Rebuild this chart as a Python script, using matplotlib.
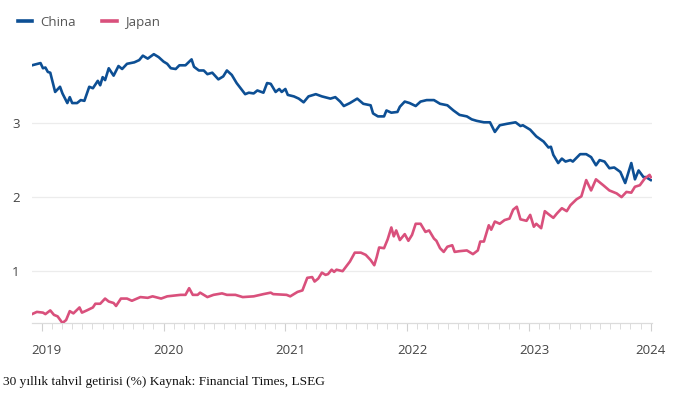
import matplotlib
matplotlib.use("Agg")
import matplotlib.pyplot as plt
from matplotlib.ticker import MultipleLocator, FixedLocator
from matplotlib.transforms import ScaledTranslation

# ---- data (decimal years, yield %) ----
china_t = [2018.92, 2018.99, 2019.01, 2019.03, 2019.05, 2019.07, 2019.11, 2019.15, 2019.17, 2019.21,
           2019.23, 2019.25, 2019.29, 2019.32, 2019.35, 2019.39, 2019.42, 2019.46, 2019.48, 2019.50,
           2019.52, 2019.55, 2019.59, 2019.63, 2019.66, 2019.70, 2019.76, 2019.80, 2019.83, 2019.87,
           2019.92, 2019.96, 2020.00, 2020.03, 2020.06, 2020.10, 2020.13, 2020.18, 2020.23, 2020.25,
           2020.29, 2020.33, 2020.36, 2020.40, 2020.45, 2020.49, 2020.52, 2020.56, 2020.60, 2020.67,
           2020.70, 2020.74, 2020.77, 2020.82, 2020.85, 2020.88, 2020.92, 2020.95, 2020.97, 2021.00,
           2021.02, 2021.07, 2021.11, 2021.15, 2021.19, 2021.25, 2021.30, 2021.37, 2021.41, 2021.45,
           2021.48, 2021.53, 2021.59, 2021.64, 2021.70, 2021.72, 2021.76, 2021.81, 2021.83, 2021.87,
           2021.92, 2021.94, 2021.98, 2022.02, 2022.07, 2022.11, 2022.16, 2022.22, 2022.27, 2022.33,
           2022.38, 2022.43, 2022.49, 2022.53, 2022.57, 2022.63, 2022.68, 2022.72, 2022.76, 2022.82,
           2022.89, 2022.93, 2022.95, 2023.01, 2023.06, 2023.12, 2023.16, 2023.18, 2023.20, 2023.24,
           2023.27, 2023.30, 2023.34, 2023.36, 2023.42, 2023.47, 2023.51, 2023.55, 2023.58, 2023.62,
           2023.66, 2023.70, 2023.75, 2023.79, 2023.84, 2023.87, 2023.90, 2023.94, 2023.96, 2024.00]
china_y = [3.78, 3.81, 3.74, 3.75, 3.69, 3.68, 3.42, 3.49, 3.40, 3.27,
           3.35, 3.27, 3.27, 3.31, 3.30, 3.49, 3.47, 3.57, 3.51, 3.62,
           3.58, 3.74, 3.64, 3.77, 3.73, 3.80, 3.82, 3.85, 3.91, 3.87,
           3.93, 3.89, 3.83, 3.80, 3.74, 3.73, 3.78, 3.78, 3.86, 3.76,
           3.71, 3.71, 3.66, 3.68, 3.59, 3.63, 3.71, 3.65, 3.54, 3.39,
           3.41, 3.40, 3.44, 3.41, 3.54, 3.53, 3.42, 3.46, 3.42, 3.46,
           3.38, 3.36, 3.33, 3.28, 3.36, 3.39, 3.36, 3.33, 3.35, 3.29,
           3.23, 3.27, 3.33, 3.26, 3.24, 3.13, 3.09, 3.09, 3.17, 3.14,
           3.15, 3.22, 3.29, 3.27, 3.23, 3.29, 3.31, 3.31, 3.26, 3.24,
           3.17, 3.11, 3.09, 3.05, 3.03, 3.01, 3.01, 2.88, 2.97, 2.99,
           3.01, 2.96, 2.97, 2.91, 2.82, 2.75, 2.67, 2.68, 2.57, 2.46,
           2.52, 2.48, 2.50, 2.48, 2.58, 2.58, 2.54, 2.43, 2.50, 2.48,
           2.39, 2.40, 2.34, 2.19, 2.46, 2.24, 2.36, 2.27, 2.27, 2.23]

japan_t = [2018.92, 2018.96, 2019.01, 2019.03, 2019.07, 2019.10, 2019.13, 2019.17, 2019.20, 2019.23,
           2019.26, 2019.31, 2019.33, 2019.37, 2019.42, 2019.44, 2019.48, 2019.52, 2019.55, 2019.59,
           2019.61, 2019.65, 2019.70, 2019.74, 2019.81, 2019.87, 2019.91, 2019.98, 2020.03, 2020.14,
           2020.18, 2020.21, 2020.24, 2020.28, 2020.30, 2020.36, 2020.41, 2020.48, 2020.52, 2020.59,
           2020.65, 2020.74, 2020.82, 2020.88, 2020.90, 2021.01, 2021.04, 2021.10, 2021.14, 2021.18,
           2021.22, 2021.24, 2021.27, 2021.30, 2021.33, 2021.35, 2021.38, 2021.40, 2021.42, 2021.47,
           2021.53, 2021.57, 2021.62, 2021.66, 2021.70, 2021.73, 2021.75, 2021.77, 2021.81, 2021.84,
           2021.87, 2021.89, 2021.91, 2021.94, 2021.98, 2022.01, 2022.04, 2022.07, 2022.11, 2022.15,
           2022.18, 2022.22, 2022.24, 2022.27, 2022.30, 2022.33, 2022.37, 2022.39, 2022.43, 2022.49,
           2022.54, 2022.58, 2022.60, 2022.63, 2022.67, 2022.69, 2022.72, 2022.76, 2022.80, 2022.84,
           2022.87, 2022.90, 2022.93, 2022.98, 2023.01, 2023.04, 2023.06, 2023.10, 2023.13, 2023.16,
           2023.20, 2023.23, 2023.27, 2023.31, 2023.34, 2023.39, 2023.43, 2023.47, 2023.51, 2023.55,
           2023.61, 2023.66, 2023.72, 2023.76, 2023.80, 2023.84, 2023.87, 2023.91, 2023.95, 2023.99,
           2024.00]
japan_y = [0.42, 0.45, 0.44, 0.42, 0.47, 0.41, 0.39, 0.30, 0.34, 0.46,
           0.43, 0.51, 0.44, 0.47, 0.51, 0.56, 0.56, 0.63, 0.59, 0.57,
           0.53, 0.63, 0.63, 0.60, 0.65, 0.64, 0.66, 0.63, 0.66, 0.68,
           0.68, 0.77, 0.68, 0.68, 0.71, 0.65, 0.68, 0.70, 0.68, 0.68,
           0.65, 0.66, 0.69, 0.71, 0.69, 0.68, 0.66, 0.72, 0.74, 0.91,
           0.92, 0.86, 0.90, 0.98, 0.95, 0.96, 1.02, 0.99, 1.02, 1.00,
           1.13, 1.25, 1.25, 1.22, 1.15, 1.08, 1.19, 1.32, 1.31, 1.43,
           1.59, 1.47, 1.55, 1.42, 1.50, 1.41, 1.49, 1.64, 1.64, 1.53,
           1.55, 1.44, 1.41, 1.31, 1.26, 1.33, 1.35, 1.26, 1.27, 1.28,
           1.23, 1.28, 1.40, 1.40, 1.62, 1.56, 1.67, 1.64, 1.69, 1.71,
           1.83, 1.87, 1.70, 1.68, 1.76, 1.60, 1.64, 1.58, 1.81, 1.77,
           1.72, 1.78, 1.85, 1.81, 1.89, 1.97, 2.01, 2.23, 2.09, 2.24,
           2.16, 2.09, 2.05, 2.00, 2.07, 2.06, 2.14, 2.16, 2.25, 2.30,
           2.27]

year_ticks = [2019, 2020, 2021, 2022, 2023, 2024]
year_labels = ["2019", "2020", "2021", "2022", "2023", "2024"]
y_ticks = [1, 2, 3]
series_names = ["China", "Japan"]
caption = "30 yıllık tahvil getirisi (%) Kaynak: Financial Times, LSEG"

china_color = "#0d4f94"
japan_color = "#d9507c"

W, H = 686, 397
fig = plt.figure(figsize=(W / 100, H / 100), dpi=100)
ax = fig.add_axes([32 / W, (H - 323) / H, (652 - 32) / W, (323 - 49) / H])

ln_c, = ax.plot(china_t, china_y, color=china_color, lw=1.9, solid_joinstyle="round", zorder=3)
ln_j, = ax.plot(japan_t, japan_y, color=japan_color, lw=1.9, solid_joinstyle="round", zorder=3)

ax.set_xlim(2018.92, 2024.01)
ax.set_ylim(0.3, 4.0)

for s in ["top", "right", "left"]:
    ax.spines[s].set_visible(False)
ax.spines["bottom"].set_color("#dcdcdc")
ax.spines["bottom"].set_linewidth(0.9)

ax.yaxis.set_major_locator(FixedLocator(y_ticks))
ax.set_yticklabels([str(v) for v in y_ticks])
ax.tick_params(axis="y", length=0, pad=9, labelsize=9.5, labelcolor="#444444")
ax.grid(axis="y", color="#ececec", lw=0.9, zorder=0)

ax.xaxis.set_major_locator(FixedLocator(year_ticks))
ax.set_xticklabels(year_labels)
ax.xaxis.set_minor_locator(MultipleLocator(1 / 12))
ax.tick_params(axis="x", which="major", length=6, width=0.8, color="#d0d0d0",
               pad=9, labelsize=9.5, labelcolor="#444444")
ax.tick_params(axis="x", which="minor", length=4, width=0.7, color="#dcdcdc")

for lab in ax.get_xticklabels() + ax.get_yticklabels():
    lab.set_family("Open Sans")

# small rightward nudge of year labels (as in the source), last one stays at the edge
xlabs = ax.get_xticklabels()
for lab in xlabs[:-1]:
    lab.set_transform(lab.get_transform() + ScaledTranslation(5 / 100, 0, fig.dpi_scale_trans))

leg = fig.legend([ln_c, ln_j], series_names, loc="upper left",
                 bbox_to_anchor=(6 / W, 1 - 4 / H), ncol=2, frameon=False,
                 handlelength=1.1, handletextpad=0.6, columnspacing=2.0,
                 prop={"family": "Open Sans", "size": 9.5})
for t in leg.get_texts():
    t.set_color("#555555")
for h in leg.legend_handles:
    h.set_linewidth(2.6)

fig.text(3 / W, 1 - 382 / H, caption, fontsize=9.6, family="Liberation Serif",
         color="#111111", va="center", ha="left")

fig.savefig("out.png", dpi=100)
